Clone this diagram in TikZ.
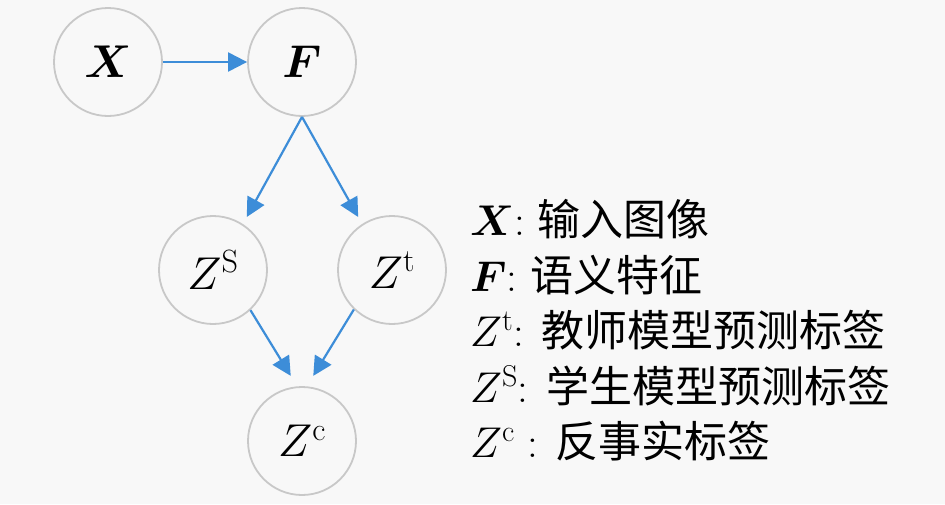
\RequirePackage{fix-cm}
\documentclass[tikz,border=0pt]{standalone}
\usepackage{amsmath,bm}
\usepackage{fontspec}
\newfontfamily\cjk{Noto Sans CJK SC}
\usetikzlibrary{arrows.meta}
\definecolor{bg}{HTML}{F8F8F8}
\definecolor{ring}{HTML}{C8C8C8}
\definecolor{arr}{HTML}{3D8DD8}
\newcommand{\bx}[1]{$\bm{#1}$}
\newcommand{\zz}[1]{$Z^{\mathrm{#1}}$}
\begin{document}
\begin{tikzpicture}[x=1pt,y=-1pt,
  var/.style={circle,draw=ring,line width=1.8pt,minimum size=108pt,inner sep=0pt,font=\fontsize{46}{52}\selectfont},
  link/.style={draw=arr,line width=2.2pt,-{Triangle[length=19pt,width=19pt]}},
  leg/.style={anchor=base west,inner sep=0pt,font=\fontsize{43}{50}\selectfont}]
\fill[bg] (0,0) rectangle (945,504);
\useasboundingbox (0,0) rectangle (945,504);
\node[var] (X) at (108,62) {\bx{X}};
\node[var] (F) at (302,62) {\bx{F}};
\node[var] (ZS) at (213,270) {\zz{S}};
\node[var] (Zt) at (392,270) {\zz{t}};
\node[var] (Zc) at (302,441) {\zz{c}};
\draw[link] (X.east) -- (F.west);
\draw[link,shorten >=8pt] (F.south) -- (ZS.57);
\draw[link,shorten >=8pt] (F.south) -- (Zt.123);
\draw[link,shorten >=12pt] (ZS.-47) -- ([xshift=-5pt]Zc.north);
\draw[link,shorten >=12pt] (Zt.226) -- ([xshift=5pt]Zc.north);
\node[leg] (l1) at (470,235) {\bx{X}:\hspace{0.3em}{\cjk 输入图像}};
\node[leg] (l2) at (470,291) {\bx{F}:\hspace{0.3em}{\cjk 语义特征}};
\node[leg] (l3) at (470,346) {\zz{t}: {\cjk 教师模型预测标签}};
\node[leg] (l4) at (470,402) {\zz{S}: {\cjk 学生模型预测标签}};
\node[leg] (l5) at (470,457) {\zz{c} : {\cjk 反事实标签}};
\end{tikzpicture}
\end{document}
